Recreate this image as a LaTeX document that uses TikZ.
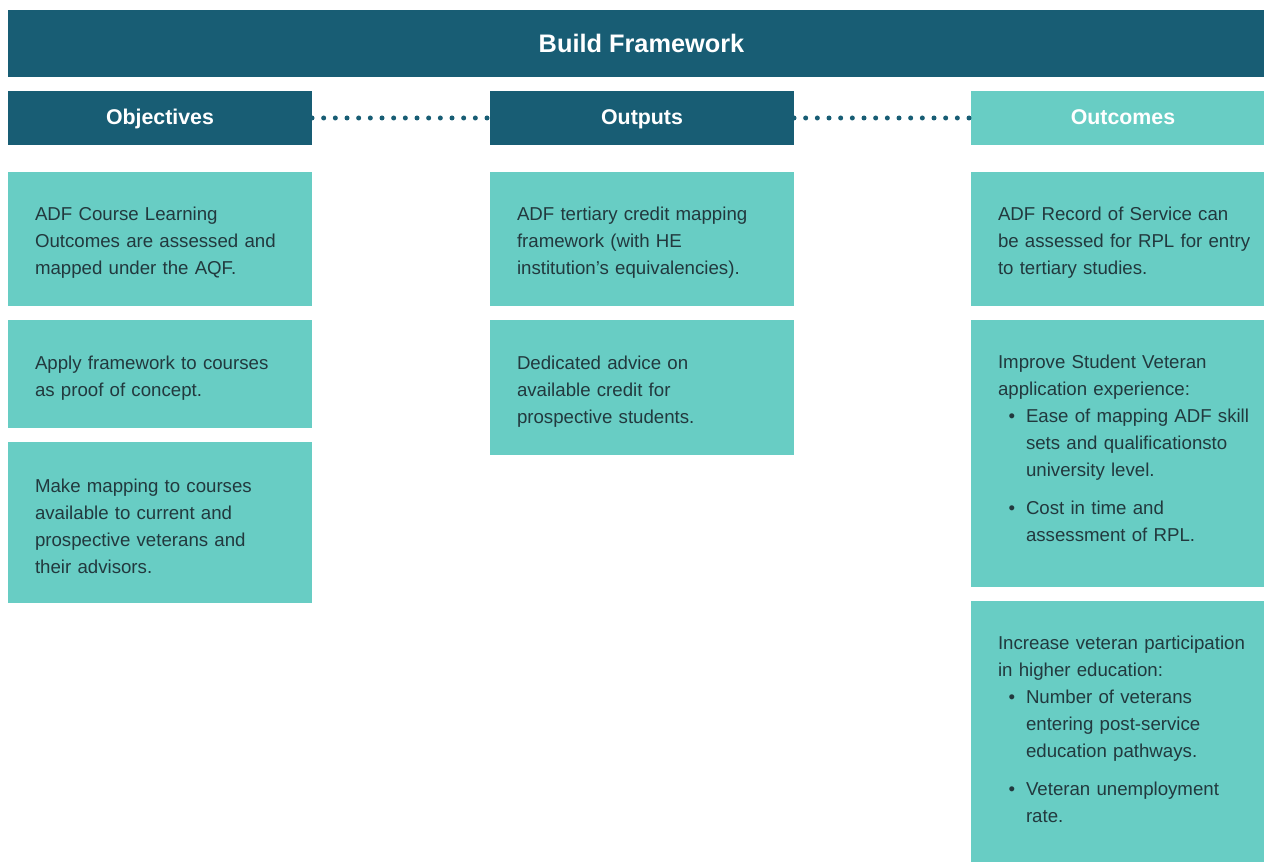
\documentclass[tikz,border=0pt]{standalone}
\usepackage{fontspec}
\setmainfont{Liberation Sans}
\usetikzlibrary{positioning}
\definecolor{headblue}{HTML}{185D74}
\definecolor{cardgreen}{HTML}{68CDC4}
\definecolor{cardtext}{HTML}{22393E}
% bullet lines inside the cards
\newcommand\bitem{\makebox[16.8pt][l]{\hspace*{6.4pt}\textbullet}}
\newcommand\bind{\hspace*{16.8pt}}
% let long lines run into the right padding; struts to place the text block
\newcommand\cardfit{\rightskip=0pt plus 1fil minus 8pt\hyphenpenalty=10000\relax}
\newcommand\cardtop{\vrule height 13pt width 0pt\relax}
\newcommand\cardpad{\par\nointerlineskip\hbox{\vrule height 6.2pt width 0pt}}

\begin{document}
\begin{tikzpicture}[x=0.6pt,y=-0.6pt,
    head/.style={fill=headblue,text=white,inner sep=0pt,outer sep=0pt,
      minimum width=182.4pt,minimum height=32.4pt,text height=10.6pt,text depth=2.6pt,
      font=\bfseries\fontsize{12.8}{15}\selectfont},
    cardbase/.style={fill=cardgreen,text=cardtext,align=left,outer sep=0pt,
      text width=150pt,inner xsep=16.2pt,inner ysep=0pt,
      font=\fontsize{11.2}{16.2}\selectfont},
    card/.style={cardbase,execute at begin node={\cardfit\cardtop}},
    listcard/.style={cardbase,execute at begin node=\cardfit,
      execute at end node=\cardpad},
    dots/.style={headblue,line width=3pt,line cap=round,
      dash pattern=on 0pt off 7pt}]
  \useasboundingbox (0,0) rectangle (1264,862);
  \clip (0,0) rectangle (1264,862);

  \node[head,anchor=north west,minimum width=760.2pt,minimum height=40.2pt,
    text height=13.4pt,text depth=3pt,
    font=\bfseries\fontsize{15.2}{18}\selectfont] (build) at (8,10) {Build Framework};

  \node[head,anchor=north west] (objH) at (8,91) {Objectives};
  \node[head,anchor=north west] (outH) at (490,91) {Outputs};
  \node[head,anchor=north west,fill=cardgreen] (resH) at (971,91) {Outcomes};

  \draw[dots] (objH.east) -- (outH.west);
  \draw[dots] (outH.east) -- (resH.west);

  % objectives
  \node[card,minimum height=80.4pt,below=16.2pt of objH] (obj1)
    {ADF Course Learning\\ Outcomes are assessed and\\ mapped under the AQF.};
  \node[card,minimum height=64.8pt,below=8.4pt of obj1] (obj2)
    {Apply framework to courses\\ as proof of concept.};
  \node[card,minimum height=96.6pt,below=8.4pt of obj2] (obj3)
    {Make mapping to courses\\ available to current and\\ prospective veterans and\\ their advisors.};

  % outputs
  \node[card,minimum height=80.4pt,below=16.2pt of outH] (out1)
    {ADF tertiary credit mapping\\ framework (with HE\\ institution’s equivalencies).};
  \node[card,minimum height=81pt,below=8.4pt of out1] (out2)
    {Dedicated advice on\\ available credit for\\ prospective students.};

  % outcomes
  \node[card,minimum height=80.4pt,below=16.2pt of resH] (res1)
    {ADF Record of Service can\\ be assessed for RPL for entry\\ to tertiary studies.};
  \node[listcard,minimum height=160.2pt,below=8.4pt of res1] (res2)
    {Improve Student Veteran\\ application experience:\\
     \bitem Ease of mapping ADF skill\\ \bind sets and qualificationsto\\ \bind university level.\\[6.6pt]
     \bitem Cost in time and\\ \bind assessment of RPL.};
  \node[listcard,minimum height=160.2pt,below=8.4pt of res2] (res3)
    {Increase veteran participation\\ in higher education:\\
     \bitem Number of veterans\\ \bind entering post-service\\ \bind education pathways.\\[6.6pt]
     \bitem Veteran unemployment\\ \bind rate.};
\end{tikzpicture}
\end{document}
